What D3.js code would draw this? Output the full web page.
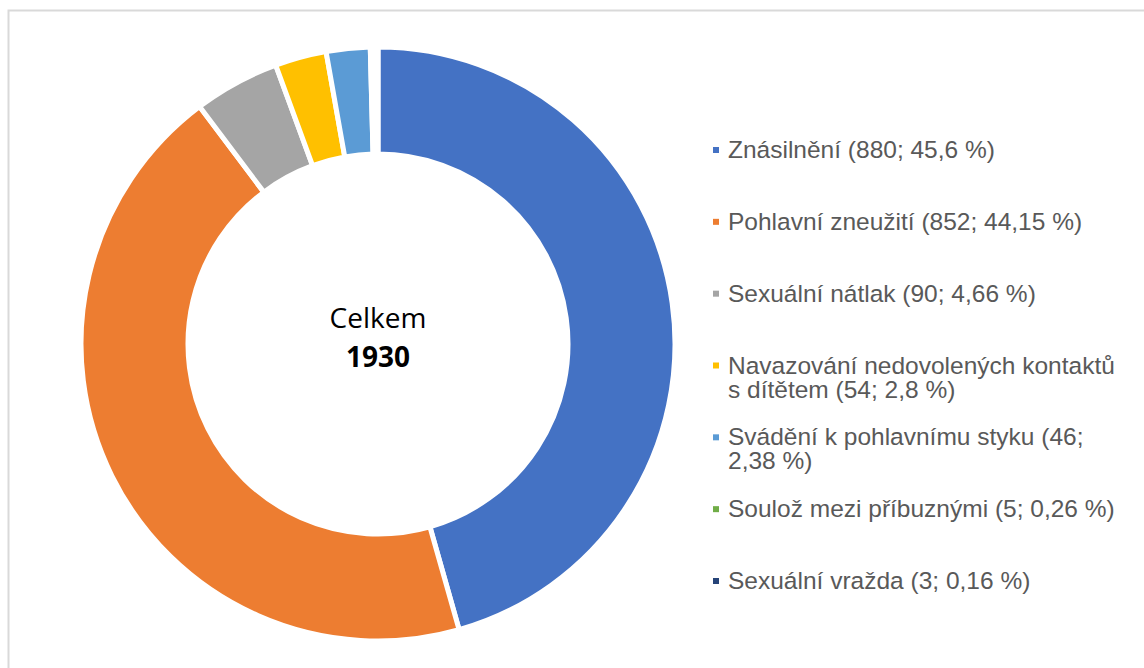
<!DOCTYPE html>
<html>
<head>
<meta charset="utf-8">
<script src="https://cdn.jsdelivr.net/npm/d3@7"></script>
<style>
  body { margin: 0; background: #fff; }
  svg { display: block; }
</style>
</head>
<body>
<svg id="chart" width="1144" height="668"></svg>
<script>
// data
const categories = [
    "Znásilnění",
    "Pohlavní zneužití",
    "Sexuální nátlak",
    "Navazování nedovolených kontaktů s dítětem",
    "Svádění k pohlavnímu styku",
    "Soulož mezi příbuznými",
    "Sexuální vražda"
];
const counts = [880, 852, 90, 54, 46, 5, 3];
const percents = ["45,6", "44,15", "4,66", "2,8", "2,38", "0,26", "0,16"];
const colors = ["#4472C4", "#ED7D31", "#A5A5A5", "#FFC000", "#5B9BD5", "#70AD47", "#264478"];
const totalLabel = "Celkem";
const total = 1930;

const donut = function(){

    const render = function(target_id){
        let svg = d3.select('#'+target_id);

        // frame (only top and left edges are in the picture)
        svg.append("path")
            .attr("d", "M8.5,668 V10.5 H1144")
            .attr("fill", "none")
            .attr("stroke", "#d9d9d9")
            .attr("stroke-width", 2);

        let cx = 378, cy = 344,
            outerR = 297, innerR = 190;

        let pie = d3.pie()
            .value(function(d){ return d })
            .sort(null);

        let arc = d3.arc()
            .innerRadius(innerR)
            .outerRadius(outerR);

        let g = svg.append("g")
            .attr("transform", "translate(" + cx + "," + cy + ")");

        g.selectAll(".slice")
            .data(pie(counts))
            .enter()
            .append("path")
            .attr("class", "slice")
            .attr("d", arc)
            .attr("fill", function(d, i){ return colors[i] })
            .attr("stroke", "#fff")
            .attr("stroke-width", 5)
            .attr("stroke-linejoin", "miter");

        // centre label
        g.append("text")
            .attr("text-anchor", "middle")
            .attr("y", -16)
            .style("font-family", "'Open Sans', sans-serif")
            .style("font-size", "28px")
            .attr("fill", "#000")
            .text(totalLabel);
        g.append("text")
            .attr("text-anchor", "middle")
            .attr("y", 23)
            .style("font-family", "'Open Sans', sans-serif")
            .style("font-size", "28px")
            .style("font-weight", "bold")
            .attr("fill", "#000")
            .text(total);

        // legend
        let yScale = d3.scalePoint()
            .domain(categories)
            .range([158, 589]);

        let textX = 728, maxW = 398, lineH = 24;

        let rows = svg.selectAll(".legend")
            .data(categories)
            .enter()
            .append("g")
            .attr("class", "legend")
            .attr("transform", function(d){ return "translate(0," + yScale(d) + ")" });

        rows.append("rect")
            .attr("x", 713)
            .attr("y", -11)
            .attr("width", 6)
            .attr("height", 6)
            .attr("fill", function(d, i){ return colors[i] });

        rows.append("text")
            .attr("x", textX)
            .style("font-family", "'Liberation Sans', Arial, sans-serif")
            .style("font-size", "24.5px")
            .attr("fill", "#595959")
            .each(function(d, i){
                let t = d3.select(this);
                let words = (d + " (" + counts[i] + "; " + percents[i] + " %)").split(" ");
                let line = [];
                let tspan = t.append("tspan").attr("x", textX).attr("dy", 0);
                words.forEach(function(w){
                    line.push(w);
                    tspan.text(line.join(" "));
                    if (tspan.node().getComputedTextLength() > maxW && line.length > 1) {
                        line.pop();
                        tspan.text(line.join(" "));
                        line = [w];
                        tspan = t.append("tspan").attr("x", textX).attr("dy", lineH).text(w);
                    }
                });
            });
    };

    return {
        render: render
    }

}();

donut.render("chart");
</script>
</body>
</html>
